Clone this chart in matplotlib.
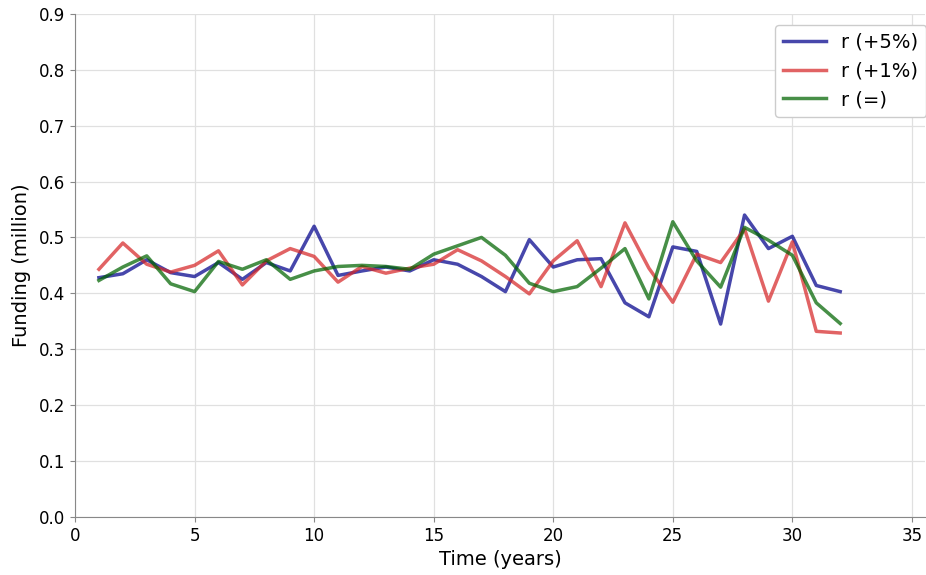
import matplotlib
matplotlib.use("Agg")
import matplotlib.pyplot as plt

years = list(range(1, 33))
r_plus5 = [0.428, 0.435, 0.460, 0.437, 0.430, 0.455, 0.425, 0.455, 0.440, 0.520,
           0.432, 0.440, 0.447, 0.440, 0.460, 0.452, 0.430, 0.403, 0.496, 0.447,
           0.460, 0.462, 0.383, 0.358, 0.483, 0.475, 0.345, 0.540, 0.480, 0.502,
           0.414, 0.403]
r_plus1 = [0.443, 0.490, 0.452, 0.438, 0.450, 0.476, 0.415, 0.458, 0.480, 0.466,
           0.420, 0.448, 0.436, 0.445, 0.452, 0.478, 0.458, 0.430, 0.399, 0.458,
           0.494, 0.412, 0.526, 0.445, 0.384, 0.470, 0.455, 0.515, 0.386, 0.492,
           0.332, 0.329]
r_equal = [0.423, 0.447, 0.467, 0.417, 0.403, 0.457, 0.443, 0.460, 0.425, 0.440,
           0.448, 0.450, 0.448, 0.443, 0.470, 0.485, 0.500, 0.468, 0.418, 0.403,
           0.412, 0.445, 0.480, 0.390, 0.528, 0.458, 0.411, 0.518, 0.495, 0.468,
           0.383, 0.346]
labels = ["r (+5%)", "r (+1%)", "r (=)"]

fig = plt.figure(figsize=(9.26, 5.75), dpi=100)
ax = fig.add_axes([0.081, 0.101, 0.918, 0.875])
ax.plot(years, r_plus5, color="darkblue", alpha=0.72, lw=2.5, label=labels[0])
ax.plot(years, r_plus1, color="tab:red", alpha=0.72, lw=2.5, label=labels[1])
ax.plot(years, r_equal, color="darkgreen", alpha=0.72, lw=2.5, label=labels[2])
ax.set_xlim(0, 35.55)
ax.set_ylim(0, 0.9)
ax.set_yticks([i / 10 for i in range(10)])
ax.set_xticks(range(0, 36, 5))
ax.grid(True, color="#e0e0e0", lw=0.9)
ax.set_axisbelow(True)
for s in ["top", "right"]:
    ax.spines[s].set_visible(False)
for s in ["left", "bottom"]:
    ax.spines[s].set_color("#888888")
ax.tick_params(labelsize=12, color="#888888")
ax.set_xlabel("Time (years)", fontsize=14)
ax.set_ylabel("Funding (million)", fontsize=14, labelpad=6)
ax.legend(loc="upper right", fontsize=14, framealpha=1, edgecolor="#cccccc",
          handlelength=2.2, bbox_to_anchor=(1.013, 0.997))
fig.savefig("out.png", dpi=100)
